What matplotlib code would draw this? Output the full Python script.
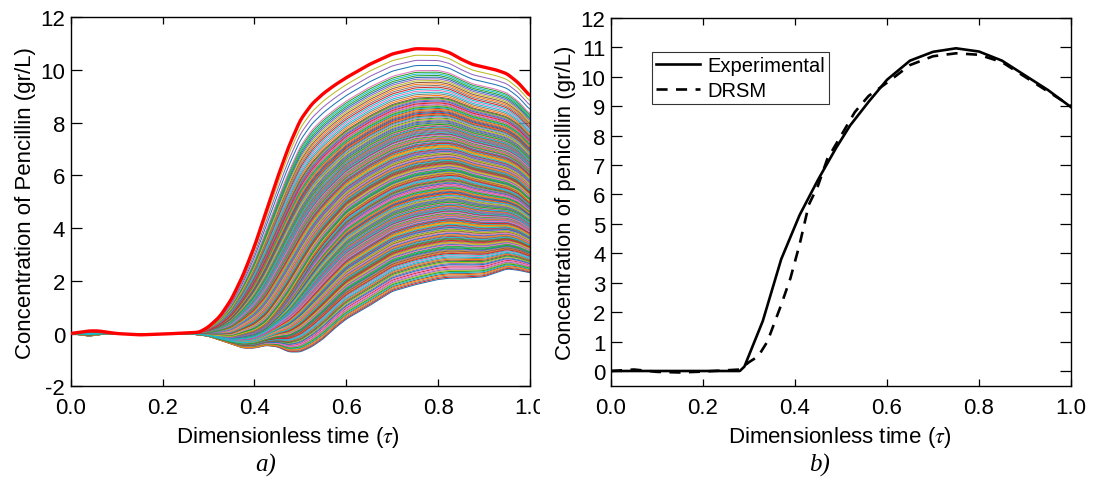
import numpy as np
import matplotlib
matplotlib.use("Agg")
import matplotlib.pyplot as plt
from matplotlib.patches import Rectangle

plt.rcParams['font.family'] = ['Liberation Sans', 'DejaVu Sans']
plt.rcParams['mathtext.fontset'] = 'stix'
plt.rcParams['axes.unicode_minus'] = False

# ---------------- Panel a) data ----------------
tmpl_t = [0, 0.02, 0.04, 0.06, 0.08, 0.1, 0.15, 0.2, 0.25, 0.28, 0.3, 0.325, 0.35,
          0.375, 0.4, 0.425, 0.45, 0.475, 0.5, 0.525, 0.55, 0.575, 0.6, 0.65, 0.7,
          0.75, 0.8, 0.825, 0.85, 0.875, 0.9, 0.925, 0.95, 0.975, 1.0]
# thick red (upper envelope) curve
upper_curve = [0, 0.05, 0.1, 0.1, 0.05, 0.0, -0.05, -0.02, 0.02, 0.05, 0.25, 0.65, 1.3,
               2.2, 3.3, 4.6, 5.9, 7.1, 8.1, 8.7, 9.1, 9.42, 9.7, 10.2, 10.6,
               10.8, 10.78, 10.65, 10.4, 10.2, 10.1, 10.0, 9.85, 9.5, 9.0]
# a typical middle curve of the bundle
mid_curve = [0, 0.02, 0.05, 0.03, 0, 0, 0, 0, 0, 0, -0.05, -0.1, -0.15,
             -0.05, 0.05, 0.3, 0.8, 1.4, 2.1, 2.8, 3.4, 3.9, 4.4, 5.0, 5.5,
             5.8, 5.95, 6.0, 5.95, 5.8, 5.7, 5.6, 5.5, 5.3, 4.9]
# lowest curve of the bundle
lower_curve = [0, -0.05, -0.1, -0.05, 0, 0, 0, 0, 0, -0.05, -0.1, -0.25, -0.4,
               -0.55, -0.55, -0.45, -0.5, -0.7, -0.7, -0.5, -0.2, 0.2, 0.55, 1.05, 1.6,
               1.85, 2.05, 2.1, 2.1, 2.12, 2.15, 2.3, 2.45, 2.4, 2.3]
# how many bundle curves peak inside each concentration band
peak_band_edges = [2.05, 3, 4, 5, 6, 7, 8, 9, 10, 10.75]
curves_per_band = [22, 32, 34, 34, 34, 32, 28, 16, 4]

# ---------------- Panel b) data ----------------
exp_t = [0, 0.1, 0.2, 0.28, 0.29, 0.33, 0.37, 0.41, 0.45, 0.49, 0.52, 0.56, 0.6,
         0.65, 0.7, 0.75, 0.8, 0.85, 0.9, 0.95, 1.0]
exp_c = [0, 0, 0, 0, 0.15, 1.7, 3.8, 5.3, 6.5, 7.6, 8.35, 9.15, 9.9,
         10.55, 10.85, 10.97, 10.86, 10.55, 10.05, 9.55, 8.97]
drsm_t = [0, 0.05, 0.1, 0.15, 0.2, 0.28, 0.3, 0.32, 0.34, 0.37, 0.39, 0.41, 0.43,
          0.45, 0.47, 0.5, 0.53, 0.56, 0.6, 0.65, 0.7, 0.75, 0.8, 0.85, 0.9, 0.95, 1.0]
drsm_c = [0, 0.05, -0.03, -0.05, -0.02, 0.05, 0.3, 0.5, 1.0, 2.25, 3.15, 4.3, 5.65,
          6.3, 7.2, 8.0, 8.8, 9.35, 9.8, 10.4, 10.7, 10.8, 10.75, 10.5, 10.0, 9.5, 9.0]

# ---------------- figure ----------------
W, H = 1103, 481
fig = plt.figure(figsize=(W / 100, H / 100), dpi=100)

def px_axes(l, r, t, b):
    return fig.add_axes([l / W, (H - b) / H, (r - l) / W, (b - t) / H])

axA = px_axes(70.7, 530, 18, 387.3)
axB = px_axes(611, 1071, 19, 386.7)

FS = 16

def smooth(y, n=11):
    k = np.hanning(n)
    k /= k.sum()
    pad = n // 2
    yp = np.concatenate([np.full(pad, y[0]), y, np.full(pad, y[-1])])
    return np.convolve(yp, k, mode='valid')

tf = np.linspace(0, 1, 401)
up = smooth(np.interp(tf, tmpl_t, upper_curve))
md = smooth(np.interp(tf, tmpl_t, mid_curve))
lo = smooth(np.interp(tf, tmpl_t, lower_curve))
up_peak = max(upper_curve)
md_peak = max(mid_curve)
lo_peak = np.interp(0.8, tmpl_t, lower_curve)

peaks = []
for i, n in enumerate(curves_per_band):
    peaks.extend(np.linspace(peak_band_edges[i], peak_band_edges[i + 1], n, endpoint=False))

colors = plt.get_cmap('tab10').colors
perm = [0, 3, 7, 1, 5, 9, 2, 8, 4, 6]   # colour order (style only)
N = len(peaks)
for k in range(N):
    j = (k * 97) % N           # draw order shuffled (style only)
    p = peaks[j]
    if p <= md_peak:
        w = (p - lo_peak) / (md_peak - lo_peak)
        y = (1 - w) * lo + w * md
    else:
        w = (p - md_peak) / (up_peak - md_peak)
        y = (1 - w) * md + w * up
    cidx = (perm[j % 10] + (j // 10) * 3) % 10
    axA.plot(tf, y, color=colors[cidx], lw=0.75)
axA.plot(tf, up, color='#ff0000', lw=2.4, zorder=5)

axA.set_xlim(0, 1)
axA.set_ylim(-2, 12)
axA.set_xticks([0, 0.2, 0.4, 0.6, 0.8, 1.0])
axA.set_xticklabels(['0.0', '0.2', '0.4', '0.6', '0.8', '1.0'])
axA.set_yticks(range(-2, 13, 2))
axA.set_ylabel('Concentration of Pencillin (gr/L)', fontsize=FS, labelpad=3)

axB.plot(exp_t, exp_c, color='black', lw=1.9, label='Experimental')
axB.plot(drsm_t, drsm_c, color='black', lw=1.9, ls=(0, (4.2, 3.2)), label='DRSM')
axB.set_xlim(0, 1)
axB.set_ylim(-0.5, 12)
axB.set_xticks([0, 0.2, 0.4, 0.6, 0.8, 1.0])
axB.set_xticklabels(['0.0', '0.2', '0.4', '0.6', '0.8', '1.0'])
axB.set_yticks(range(0, 13))
axB.set_ylabel('Concentration of penicillin (gr/L)', fontsize=FS, labelpad=3)
leg = axB.legend(loc='upper left', bbox_to_anchor=(0.089, 0.9075), borderaxespad=0,
                 fontsize=14.5, frameon=True, fancybox=False, handlelength=2.2,
                 handletextpad=0.35, borderpad=0.2, labelspacing=0.3)
leg.get_frame().set_edgecolor('black')
leg.get_frame().set_linewidth(0.8)

for ax in (axA, axB):
    ax.tick_params(axis='both', which='both', direction='in', top=True, right=True,
                   labelsize=FS, width=0.9)
    ax.tick_params(axis='y', length=8, pad=4)
    ax.tick_params(axis='x', length=5, pad=8)
    for s in ax.spines.values():
        s.set_linewidth(1.0)

# the left panel's last tick label is cut off in the original figure
fig.patches.append(Rectangle((540 / W, 1 - 428 / H), 10 / W, 38 / H,
                             transform=fig.transFigure, facecolor='white',
                             edgecolor='none', zorder=10))

# x labels & captions
fig.text(288 / W, 1 - 438 / H, r'Dimensionless time ($\tau$)', fontsize=FS,
         ha='center', va='center')
fig.text(840 / W, 1 - 438 / H, r'Dimensionless time ($\tau$)', fontsize=FS,
         ha='center', va='center')
fig.text(266 / W, 1 - 465 / H, 'a)', fontsize=18, ha='center', va='center',
         family='Liberation Serif', style='italic')
fig.text(820 / W, 1 - 465 / H, 'b)', fontsize=18, ha='center', va='center',
         family='Liberation Serif', style='italic')

fig.savefig('out.png', dpi=100)
